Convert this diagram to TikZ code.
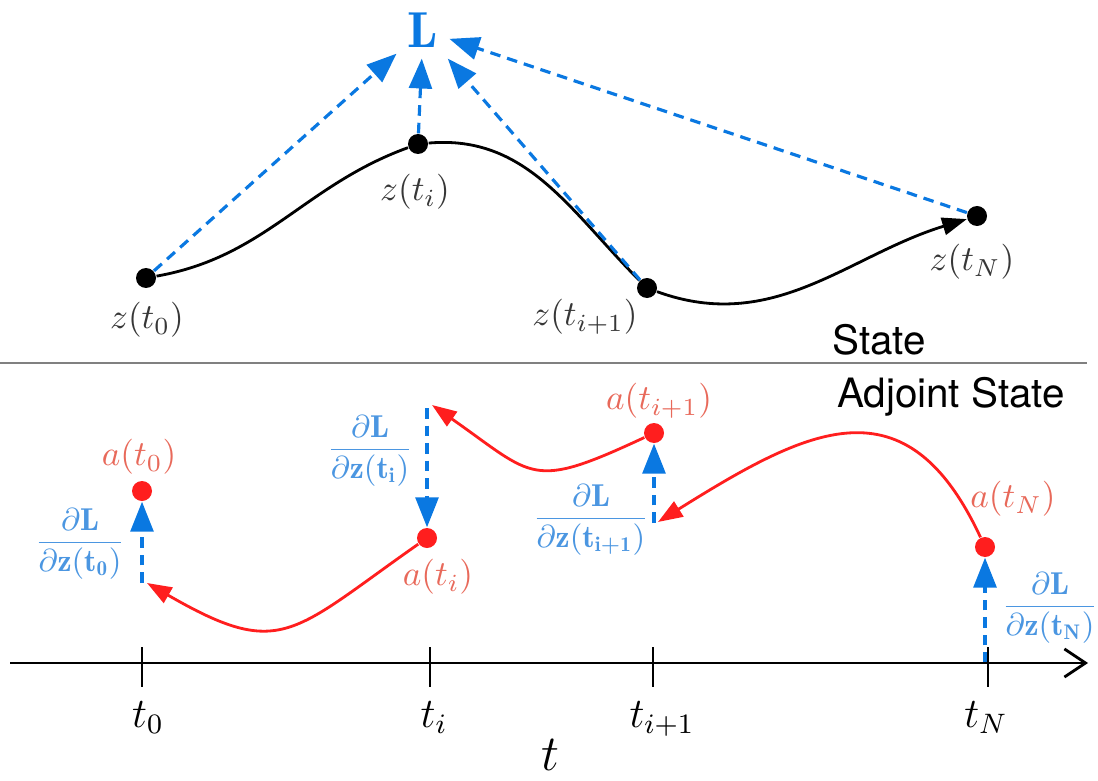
\documentclass[tikz,border=0pt]{standalone}
\usepackage{amsmath}
\usepackage{fontspec}
\setsansfont{TeX Gyre Heros}
\usetikzlibrary{arrows.meta}

\definecolor{lblue}{RGB}{10,120,225}
\definecolor{fblue}{RGB}{75,150,225}
\definecolor{adjred}{RGB}{255,30,30}
\definecolor{alabel}{RGB}{232,105,90}
\definecolor{zlabel}{RGB}{55,55,55}

\tikzset{
	zdot/.style={circle, fill=black, inner sep=0pt, minimum size=0.2cm},
	adot/.style={circle, fill=adjred, inner sep=0pt, minimum size=0.2cm},
	zlab/.style={text=zlabel},
	alab/.style={text=alabel},
	dlab/.style={text=fblue, font=\small},
	paneltext/.style={font=\sffamily\fontsize{11.5}{14}\selectfont},
	gradarrow/.style={lblue, line width=0.9pt, dash pattern=on 3pt off 2pt, -{Triangle[length=8.5pt,width=6.5pt]}},
	fwdcurve/.style={black, line width=0.8pt, -{Triangle[length=7pt,width=5pt]}},
	backcurve/.style={adjred, line width=0.8pt, -{Triangle[length=7pt,width=5pt]}},
}

\begin{document}
\begin{tikzpicture}
	\useasboundingbox (0,0) rectangle (10.98,-7.80);

	% Perdida L
	\node[text=lblue, inner sep=3pt] (L) at (4.23,-0.30) {\Large$\mathbf{L}$};

	% Estados z(t)
	\node[zdot] (z0) at (1.46,-2.78) {};
	\node[zdot] (zi) at (4.18,-1.44) {};
	\node[zdot] (zi1) at (6.47,-2.88) {};
	\node[zdot] (zN) at (9.77,-2.16) {};

	\node[zlab] (z0lab) at (1.47,-3.20) {$z(t_0)$};
	\node[zlab] (zilab) at (4.15,-1.92) {$z(t_i)$};
	\node[zlab] (zi1lab) at (5.85,-3.17) {$z(t_{i+1})$};
	\node[zlab] (zNlab) at (9.72,-2.62) {$z(t_N)$};

	% Trayectoria del estado
	\draw[fwdcurve] (z0) to[out=10,in=200] (zi) to[out=5,in=135] (zi1) to[out=-20,in=197] (zN);

	% Gradientes hacia L
	\draw[gradarrow] (z0) -- (L);
	\draw[gradarrow] (zi) -- (L);
	\draw[gradarrow] (zi1) -- (L);
	\draw[gradarrow] (zN) -- (L);

	% Separacion
	\draw[gray, line width=0.5pt] (0,-3.63) -- (10.87,-3.63);
	\node[paneltext] (statelab) at (8.79,-3.40) {State};
	\node[paneltext] (adjlab) at (9.51,-3.97) {Adjoint State};

	% Estados adjuntos a(t)
	\node[adot] (a0) at (1.42,-4.91) {};
	\node[adot] (ai) at (4.27,-5.38) {};
	\node[adot] (ai1) at (6.54,-4.33) {};
	\node[adot] (aN) at (9.85,-5.47) {};

	\node[alab] (a0lab) at (1.39,-4.57) {$a(t_0)$};
	\node[alab] (ailab) at (4.38,-5.77) {$a(t_i)$};
	\node[alab] (ai1lab) at (6.59,-4.01) {$a(t_{i+1})$};
	\node[alab] (aNlab) at (10.13,-4.99) {$a(t_N)$};

	% Derivadas parciales
	\node[dlab] (d0) at (0.80,-5.44) {$\dfrac{\partial\mathbf{L}}{\partial\mathbf{z}(\mathbf{t_0})}$};
	\node[dlab] (di) at (3.70,-4.51) {$\dfrac{\partial\mathbf{L}}{\partial\mathbf{z}(\mathbf{t_i})}$};
	\node[dlab] (di1) at (5.91,-5.20) {$\dfrac{\partial\mathbf{L}}{\partial\mathbf{z}(\mathbf{t_{i+1}})}$};
	\node[dlab] (dN) at (10.50,-6.08) {$\dfrac{\partial\mathbf{L}}{\partial\mathbf{z}(\mathbf{t_N})}$};

	\coordinate (b0) at (1.42,-5.83);
	\coordinate (bi) at (4.27,-4.08);
	\coordinate (bi1) at (6.54,-5.23);
	\coordinate (bN) at (9.85,-6.63);
	\draw[gradarrow] (b0) -- (a0);
	\draw[gradarrow] (bi) -- (ai);
	\draw[gradarrow] (bi1) -- (ai1);
	\draw[gradarrow] (bN) -- (aN);

	% Integracion hacia atras
	\coordinate (r0) at (1.47,-5.83);
	\coordinate (ri) at (4.32,-4.05);
	\coordinate (ri1) at (6.58,-5.22);
	\draw[backcurve] (aN) to[out=115,in=32,looseness=1.4] (ri1);
	\draw[backcurve] (ai1) to[out=205,in=-35,looseness=1.5] (ri);
	\draw[backcurve] (ai) to[out=215,in=-30,looseness=1.45] (r0);

	% Eje del tiempo
	\coordinate (tstart) at (0.10,-6.63);
	\coordinate (tend) at (10.88,-6.63);
	\draw[line width=0.8pt, -{Straight Barb[length=6pt,width=8pt]}] (tstart) -- (tend);
	\foreach \x/\lx/\lab/\n in {1.42/1.48/t_0/0, 4.30/4.34/t_i/i, 6.53/6.62/t_{i+1}/i1, 9.88/9.86/t_N/N}{
		\draw[line width=0.7pt] (\x,-6.47) -- (\x,-6.87);
		\node[anchor=base, font=\large] (tick\n) at (\lx,-7.27) {$\lab$};
	}
	\node[anchor=base, font=\Large] (tlab) at (5.50,-7.70) {$t$};
\end{tikzpicture}
\end{document}
